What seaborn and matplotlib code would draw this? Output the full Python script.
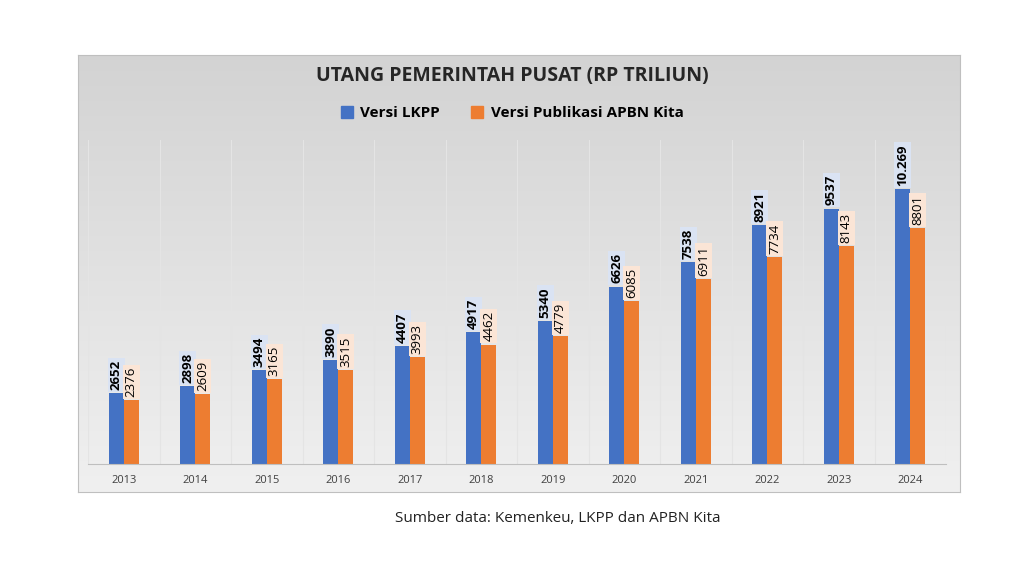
import numpy as np
import pandas as pd
import matplotlib
matplotlib.use("Agg")
import matplotlib.pyplot as plt
import seaborn as sns

years = ["2013","2014","2015","2016","2017","2018","2019","2020","2021","2022","2023","2024"]
lkpp = [2652,2898,3494,3890,4407,4917,5340,6626,7538,8921,9537,10269]
apbn = [2376,2609,3165,3515,3993,4462,4779,6085,6911,7734,8143,8801]
lkpp_labels = ["2652","2898","3494","3890","4407","4917","5340","6626","7538","8921","9537","10.269"]
series = ["Versi LKPP", "Versi Publikasi APBN Kita"]

df = pd.DataFrame({"Tahun": years*2, "Nilai": lkpp+apbn,
                   "Seri": [series[0]]*12 + [series[1]]*12})

plt.rcParams["font.family"] = "Open Sans"
fig = plt.figure(figsize=(10.24, 5.76), dpi=100)
fig.patch.set_facecolor("white")

bg = fig.add_axes([78/1024, 1-492/576, 882/1024, 437/576])
grad = np.linspace(0, 1, 256).reshape(-1, 1)
cmap = matplotlib.colors.LinearSegmentedColormap.from_list("g", ["#D3D3D3", "#F0F0F0"])
bg.imshow(grad, aspect="auto", cmap=cmap, extent=[0,1,0,1])
bg.set_xticks([]); bg.set_yticks([])
for s in bg.spines.values():
    s.set_color("#BFBFBF")

ax = fig.add_axes([88/1024, 1-464/576, 858/1024, 324/576])
ax.patch.set_alpha(0)
sns.barplot(data=df, x="Tahun", y="Nilai", hue="Seri", palette=["#4472C4", "#ED7D31"],
            width=0.42, gap=0, saturation=1, ax=ax, legend=False)
ax.set_xlim(-0.5, 11.5)
ax.set_ylim(0, 12100)
ax.set_yticks([])
ax.set_xlabel(""); ax.set_ylabel("")
for s in ["top","right","left"]:
    ax.spines[s].set_visible(False)
ax.spines["bottom"].set_color("#BFBFBF")
ax.tick_params(axis="x", length=0, labelsize=8, colors="#404040", pad=8)
for i in range(13):
    ax.axvline(i-0.5, color="#E4E4E4", lw=0.8, zorder=0)

for i in range(12):
    ax.text(i-0.105, lkpp[i]+120, lkpp_labels[i], rotation=90, ha="center", va="bottom",
            fontsize=9.5, fontweight="bold",
            bbox=dict(boxstyle="square,pad=0.15", fc="#DAE3F3", ec="none"))
    ax.text(i+0.105, apbn[i]+120, str(apbn[i]), rotation=90, ha="center", va="bottom",
            fontsize=9.5,
            bbox=dict(boxstyle="square,pad=0.15", fc="#FBE5D6", ec="none"))

fig.text(0.5, 1-76/576, "UTANG PEMERINTAH PUSAT (RP TRILIUN)", ha="center", va="center",
         fontsize=14, fontweight="bold", color="#262626")
from matplotlib.patches import Patch
fig.legend(handles=[Patch(color="#4472C4", label=series[0]), Patch(color="#ED7D31", label=series[1])],
           loc="center", bbox_to_anchor=(0.5, 1-113/576), ncol=2, frameon=False,
           prop={"weight": "bold", "size": 11}, handlelength=0.8, handleheight=0.8,
           columnspacing=2.0, handletextpad=0.5)
fig.text(0.545, 1-519/576, "Sumber data: Kemenkeu, LKPP dan APBN Kita", ha="center",
         va="center", fontsize=11, color="#222222")
fig.savefig("out.png", dpi=100)
